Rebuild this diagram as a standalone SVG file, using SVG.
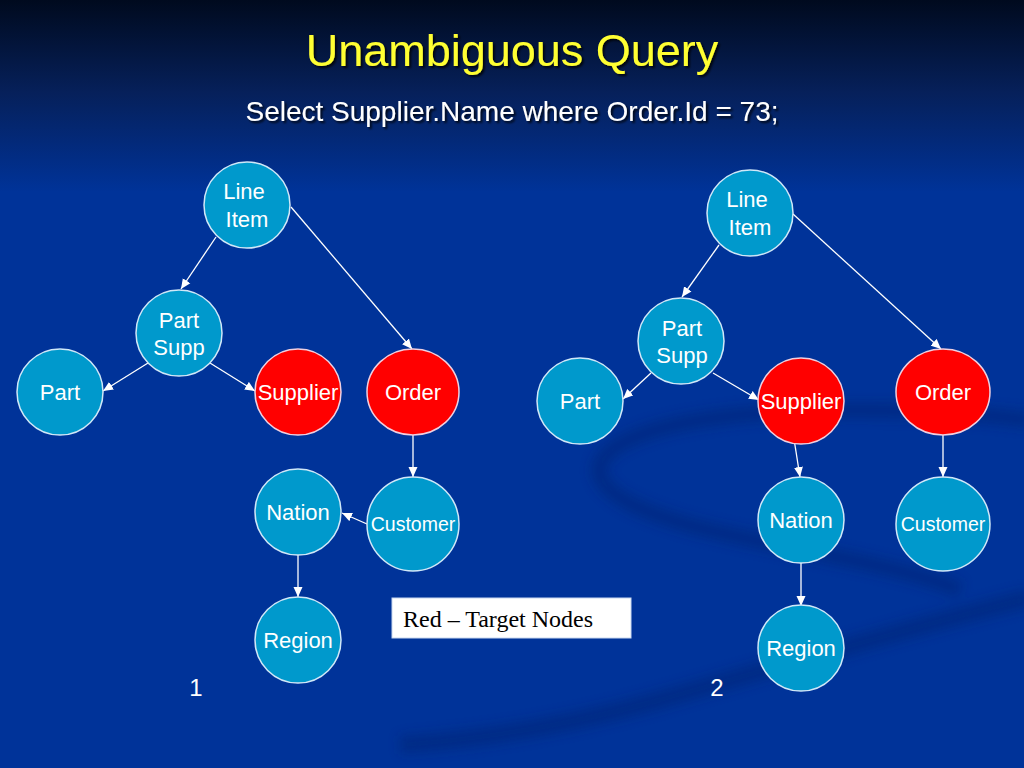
<svg xmlns="http://www.w3.org/2000/svg" width="1024" height="768" viewBox="0 0 1024 768">
<defs>
<linearGradient id="bg" x1="0" y1="0" x2="0" y2="1">
<stop offset="0" stop-color="#000a1e"/>
<stop offset="0.12" stop-color="#06205a"/>
<stop offset="0.25" stop-color="#003399"/>
<stop offset="1" stop-color="#003399"/>
</linearGradient>
<filter id="blur" x="-20%" y="-20%" width="140%" height="140%"><feGaussianBlur stdDeviation="6"/></filter>
<filter id="shadow" x="-5%" y="-20%" width="110%" height="150%"><feDropShadow dx="2" dy="2" stdDeviation="0.8" flood-color="#000000" flood-opacity="0.8"/></filter>
<marker id="arr" viewBox="0 0 10 10" refX="10" refY="5" markerWidth="10" markerHeight="10" markerUnits="userSpaceOnUse" orient="auto">
<path d="M0,0.5 L10,5 L0,9.5 z" fill="#ffffff"/>
</marker>
<style>
.n{fill:#0099cc;stroke:#d0e8f8;stroke-width:1.5}
.t{fill:#ff0000;stroke:#f0d0e0;stroke-width:1.5}
.l{font-family:"Liberation Sans",Arial,sans-serif;font-size:22px;fill:#ffffff;text-anchor:middle}
.s{font-size:19.5px}
.num{font-size:24px}
.e{stroke:#ffffff;stroke-width:1.3;fill:none;marker-end:url(#arr)}
</style>
</defs>
<rect width="1024" height="768" fill="url(#bg)"/>
<g id="swirl" fill="none" stroke="#002470" opacity="0.45" filter="url(#blur)">
<path d="M1030,420 C900,405 720,405 640,435 C570,462 590,500 700,528 C800,552 900,565 960,590" stroke-width="16"/>
<path d="M1030,598 C920,625 800,660 660,700 C560,728 470,740 400,745" stroke-width="18"/>
</g>
<text x="512" y="66" font-family="'Liberation Sans',Arial,sans-serif" font-size="45" fill="#ffff33" text-anchor="middle" filter="url(#shadow)">Unambiguous Query</text>
<text x="512" y="121" font-family="'Liberation Sans',Arial,sans-serif" font-size="28" fill="#ffffff" text-anchor="middle" filter="url(#shadow)">Select Supplier.Name where Order.Id = 73;</text>
<g id="connectors">
<line class="e" x1="216" y1="237" x2="181" y2="289"/>
<line class="e" x1="291" y1="207" x2="412" y2="349"/>
<line class="e" x1="148" y1="363" x2="103" y2="391"/>
<line class="e" x1="210" y1="363" x2="255" y2="391"/>
<line class="e" x1="413" y1="435" x2="413" y2="477"/>
<line class="e" x1="367" y1="524" x2="342" y2="513"/>
<line class="e" x1="298" y1="555" x2="298" y2="597"/>
<line class="e" x1="719" y1="245" x2="682" y2="297"/>
<line class="e" x1="793" y1="214" x2="941" y2="349"/>
<line class="e" x1="651" y1="373" x2="623" y2="399"/>
<line class="e" x1="713" y1="373" x2="759" y2="400"/>
<line class="e" x1="794" y1="439" x2="800" y2="477"/>
<line class="e" x1="943" y1="435" x2="943" y2="477"/>
<line class="e" x1="801" y1="563" x2="801" y2="606"/>
</g>
<g id="g1-lineitem"><circle class="n" cx="247" cy="205" r="43"/><text class="l" x="244" y="199">Line</text><text class="l" x="247" y="227">Item</text></g>
<g id="g1-partsupp"><circle class="n" cx="179" cy="333" r="43"/><text class="l" x="179" y="328">Part</text><text class="l" x="179" y="355">Supp</text></g>
<g id="g1-part"><circle class="n" cx="60" cy="392" r="43"/><text class="l" x="60" y="400">Part</text></g>
<g id="g1-supplier"><circle class="t" cx="298" cy="392" r="43"/><text class="l" x="298" y="400">Supplier</text></g>
<g id="g1-order"><ellipse class="t" cx="413" cy="392" rx="46" ry="43"/><text class="l" x="413" y="400">Order</text></g>
<g id="g1-nation"><circle class="n" cx="298" cy="512" r="43"/><text class="l" x="298" y="520">Nation</text></g>
<g id="g1-customer"><ellipse class="n" cx="413" cy="524" rx="46" ry="47"/><text class="l s" x="413" y="531">Customer</text></g>
<g id="g1-region"><circle class="n" cx="298" cy="640" r="43"/><text class="l" x="298" y="648">Region</text></g>
<g id="g2-lineitem"><circle class="n" cx="750" cy="213" r="43"/><text class="l" x="747" y="207">Line</text><text class="l" x="750" y="235">Item</text></g>
<g id="g2-partsupp"><circle class="n" cx="681" cy="341" r="43"/><text class="l" x="682" y="336">Part</text><text class="l" x="682" y="363">Supp</text></g>
<g id="g2-part"><circle class="n" cx="580" cy="401" r="43"/><text class="l" x="580" y="409">Part</text></g>
<g id="g2-supplier"><circle class="t" cx="801" cy="401" r="43"/><text class="l" x="801" y="409">Supplier</text></g>
<g id="g2-order"><ellipse class="t" cx="943" cy="392" rx="47" ry="43"/><text class="l" x="943" y="400">Order</text></g>
<g id="g2-nation"><circle class="n" cx="801" cy="520" r="43"/><text class="l" x="801" y="528">Nation</text></g>
<g id="g2-customer"><ellipse class="n" cx="943" cy="524" rx="47" ry="47"/><text class="l s" x="943" y="531">Customer</text></g>
<g id="g2-region"><circle class="n" cx="801" cy="648" r="43"/><text class="l" x="801" y="656">Region</text></g>
<g id="legend"><rect x="392" y="598" width="239" height="40" fill="#ffffff" stroke="#c8d8f0" stroke-width="1"/><text x="403" y="627" font-family="'Liberation Serif','Times New Roman',serif" font-size="24" fill="#000000">Red – Target Nodes</text></g>
<text class="l num" x="196" y="696">1</text>
<text class="l num" x="717" y="696">2</text>
</svg>
